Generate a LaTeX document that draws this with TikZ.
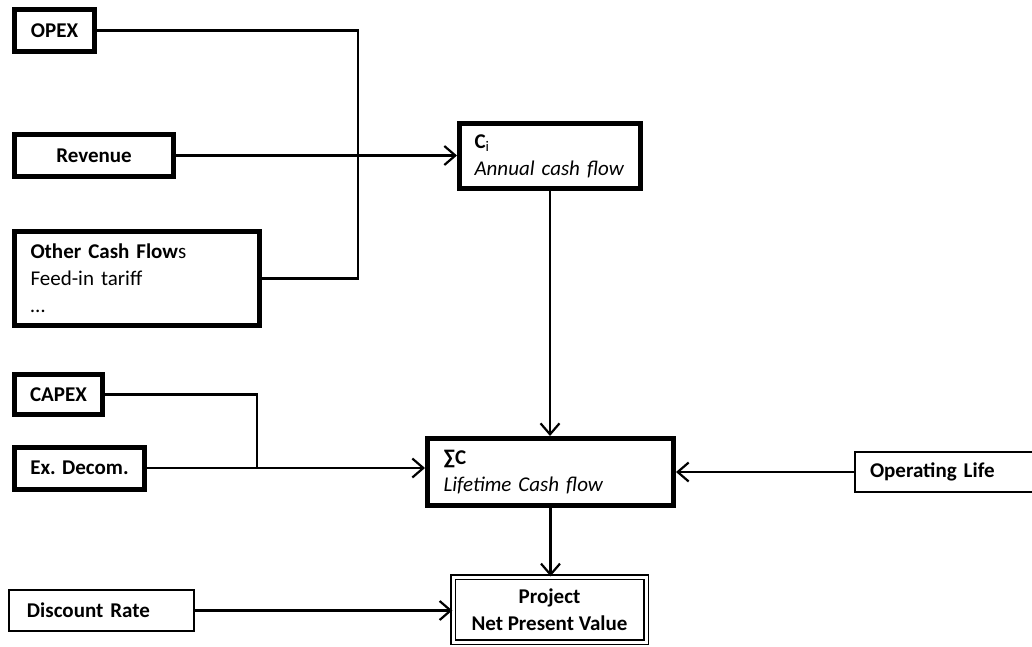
\documentclass[tikz,border=0pt]{standalone}
\usepackage{fontspec}
\setmainfont{Carlito}
\usetikzlibrary{arrows.meta}
\begin{document}
\begin{tikzpicture}[x=1pt,y=-1pt,
  every node/.style={font=\fontsize{21}{27}\selectfont, inner sep=0pt},
  thickbox/.style={draw, line width=5pt},
  thinbox/.style={draw, line width=2pt},
  npvbox/.style={draw, double, line width=1.4pt, double distance=3pt},
  conn/.style={line width=2.2pt},
  arr/.style={conn, -{Straight Barb[length=11pt,width=19pt,line width=2.2pt]}}
]
\useasboundingbox (0,0) rectangle (1032,646);
\fill[white] (0,0) rectangle (1032,646);

\node[thickbox, minimum width=80pt, minimum height=42pt] (opex) at (54.5,30.5) {\textbf{OPEX}};
\node[thickbox, minimum width=159pt, minimum height=42pt] (rev) at (94,155.5) {\textbf{Revenue}};
\node[thickbox, minimum width=245pt, minimum height=94pt, text width=213pt, align=left] (other) at (137,278.5)
  {\textbf{Other Cash Flow}s\\Feed-in tariff\\\dots};
\node[thickbox, minimum width=181pt, minimum height=65pt, text width=151pt, align=left] (ci) at (550,156)
  {\textbf{C}\textsubscript{i}\\\textit{Annual cash flow}};
\node[thickbox, minimum width=88pt, minimum height=40pt] (capex) at (58.5,394.5) {\textbf{CAPEX}};
\node[thickbox, minimum width=130pt, minimum height=42pt] (exd) at (79.5,468) {\textbf{Ex. Decom.}};
\node[thickbox, minimum width=246pt, minimum height=67pt, text width=214pt, align=left] (sc) at (550.5,472)
  {\textbf{∑C}\\\textit{Lifetime Cash flow}};
\node[thinbox, minimum width=190pt, minimum height=40pt, text width=160pt, align=left] (ol) at (950,472)
  {\textbf{Operating Life}};
\node[npvbox, minimum width=193pt, minimum height=65pt, align=center] (npv) at (549.5,609.5)
  {\textbf{Project}\\\textbf{Net Present Value}};
\node[thinbox, minimum width=185pt, minimum height=41pt, text width=149pt, align=left] (dr) at (101.5,610.5)
  {\textbf{Discount Rate}};

\coordinate (busA) at (358,0);
\coordinate (busB) at (257,0);

\draw[conn] (opex.east) -| (busA |- other.east) -- (other.east);
\draw[arr] (rev.east) -- (rev.east -| ci.west);
\draw[arr] (ci.south) -- (ci.south |- sc.north);
\draw[conn] (capex.east) -| (busB |- exd.east);
\draw[arr] (exd.east) -- (exd.east -| sc.west);
\draw[arr] (ol.west) -- (ol.west -| sc.east);
\draw[arr] (sc.south) -- (sc.south |- npv.north);
\draw[arr] (dr.east) -- (dr.east -| npv.west);
\end{tikzpicture}
\end{document}
